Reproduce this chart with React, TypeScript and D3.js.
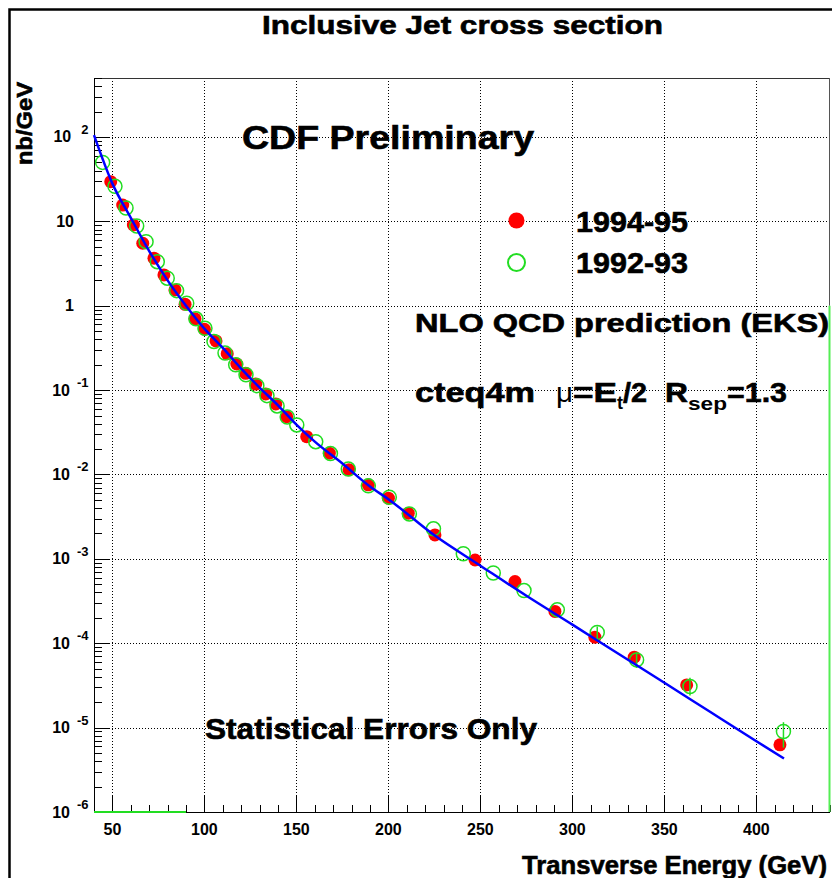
import React from 'react'
import { scaleLinear, scaleLog, line, curveMonotoneX, range } from 'd3'

// 1994-95 data (filled red)
const et9495 = [49.1, 55.6, 61.4, 66.5, 72.6, 78.0, 84.0, 89.5, 94.9, 100.0, 106.3, 112.4, 117.6, 122.4, 127.9, 133.3, 138.8, 144.7, 155.6, 167.9, 178.6, 189.1, 200.0, 210.8, 225.3, 247.1, 268.8, 290.5, 312.2, 333.6, 362.1, 412.8]
const xs9495 = [29.5, 15.6, 9.06, 5.5, 3.66, 2.32, 1.54, 1.04, 0.70, 0.526, 0.383, 0.27, 0.204, 0.158, 0.118, 0.090, 0.0686, 0.0485, 0.0281, 0.0179, 0.01135, 0.00754, 0.00524, 0.00348, 0.00192, 0.00097, 0.000538, 0.000238, 0.000118, 6.84e-5, 3.21e-5, 6.25e-6]

// 1992-93 data (open green)
const et9293 = [44.7, 51.4, 57.4, 63.2, 68.3, 74.4, 79.8, 84.9, 90.4, 95.4, 100.3, 105.2, 111.2, 117, 122.6, 128.5, 134, 139.5, 145, 150.2, 160.5, 168.5, 178.2, 189.1, 200.5, 211.4, 224.5, 240.7, 257, 273.7, 291.8, 313.5, 334.9, 363.9, 414.7]
const xs9293 = [50, 26, 14.4, 8.8, 5.75, 3.33, 2.12, 1.51, 1.07, 0.70, 0.54, 0.376, 0.275, 0.2, 0.152, 0.113, 0.086, 0.065, 0.048, 0.0387, 0.0245, 0.0177, 0.0116, 0.00733, 0.00537, 0.00341, 0.00227, 0.00115, 0.00068, 0.000421, 0.000249, 0.000134, 6.35e-5, 3.07e-5, 9.0e-6]
const errEt = [313.5, 334.9, 363.9, 414.7]
const errLo = [1.1e-4, 5.1e-5, 2.4e-5, 5.8e-6]
const errHi = [1.58e-4, 7.8e-5, 3.9e-5, 1.16e-5]

// NLO QCD (EKS) prediction
const etNLO = [40, 50, 60, 70, 80, 90, 100, 110, 120, 130, 140, 150, 160, 175, 190, 200, 225, 250, 275, 300, 325, 350, 375, 400, 415]
const xsNLO = [105, 28, 11, 4.45, 2.0, 1.0, 0.535, 0.316, 0.18, 0.107, 0.066, 0.039, 0.0245, 0.0135, 0.0072, 0.0051, 0.0019, 0.00083, 3.65e-4, 1.66e-4, 7.5e-5, 3.4e-5, 1.53e-5, 6.9e-6, 4.3e-6]

const xTicks = [50, 100, 150, 200, 250, 300, 350, 400]
const yExps = [-6, -5, -4, -3, -2, -1, 0, 1, 2]

const FONT = 'Liberation Sans, Arial, Helvetica, sans-serif'
const GREEN = '#22dd22'

export default function App() {
  const x = scaleLinear().domain([40, 440]).range([94, 830])
  const y = scaleLog().domain([1e-6, 500]).range([812, 78])
  const left = 94, right = 830, top = 78, bottom = 812

  const nlo = line<number>().x((d, i) => x(etNLO[i])).y(d => y(d)).curve(curveMonotoneX)

  const minorY: number[] = []
  yExps.forEach(e => range(2, 10).forEach(k => { const v = k * Math.pow(10, e); if (v <= 500) minorY.push(v) }))
  const minorX = range(40, 441, 10).filter(v => v % 50 !== 0)

  const txt = { fontFamily: FONT, fontWeight: 'bold' as const, fill: '#000' }
  // heavier text for the big labels, like the original's bitmap font
  const big = { ...txt, stroke: '#000', strokeWidth: 0.6 }
  const py = (v: number) => Math.round(y(v)) + 0.5
  const px = (v: number) => Math.round(x(v)) + 0.5

  return (
    <svg width={832} height={878} style={{ position: 'absolute', left: 0, top: 0, background: '#fff' }}>
      <rect x={0} y={0} width={832} height={878} fill="#fff" />
      {/* canvas frame */}
      <path d="M9.5,878 V9.5 H840" fill="none" stroke="#000" strokeWidth={2.5} />

      <text {...big} x={262} y={34} fontSize={26} textLength={401} lengthAdjust="spacingAndGlyphs">Inclusive Jet cross section</text>

      {/* grid */}
      {xTicks.map(t => (
        <line key={'gx' + t} x1={px(t)} x2={px(t)} y1={top} y2={bottom} stroke="#000" strokeDasharray="1,2" />
      ))}
      {yExps.filter(e => e > -6).map(e => (
        <line key={'gy' + e} x1={left} x2={right} y1={py(Math.pow(10, e))} y2={py(Math.pow(10, e))} stroke="#000" strokeDasharray="1,2" />
      ))}

      {/* frame */}
      <line x1={left} x2={right} y1={top + 0.5} y2={top + 0.5} stroke="#333" />
      <line x1={right - 0.5} x2={right - 0.5} y1={top} y2={y(1)} stroke="#555" />
      <line x1={left + 0.5} x2={left + 0.5} y1={top} y2={bottom} stroke="#000" />
      <line x1={left} x2={right} y1={bottom + 0.5} y2={bottom + 0.5} stroke="#000" />

      {/* y ticks */}
      {yExps.map(e => (
        <line key={'yt' + e} x1={left} x2={left + 16} y1={py(Math.pow(10, e))} y2={py(Math.pow(10, e))} stroke="#000" />
      ))}
      {minorY.map(v => (
        <line key={'ym' + v} x1={left} x2={left + 8} y1={py(v)} y2={py(v)} stroke="#000" />
      ))}
      {/* x ticks */}
      {xTicks.map(t => (
        <line key={'xt' + t} x1={px(t)} x2={px(t)} y1={bottom} y2={bottom - 16} stroke="#000" />
      ))}
      {minorX.map(t => (
        <line key={'xm' + t} x1={px(t)} x2={px(t)} y1={bottom} y2={bottom - 7} stroke="#000" />
      ))}

      {/* green histogram edges */}
      <line x1={x(40)} x2={x(90)} y1={bottom} y2={bottom} stroke={GREEN} strokeWidth={2} />
      <line x1={right - 0.5} x2={right - 0.5} y1={y(1)} y2={bottom} stroke="#55ee55" strokeWidth={2} />

      {/* tick labels */}
      {xTicks.map(t => (
        <text key={'xl' + t} {...txt} x={x(t)} y={835} fontSize={16} textAnchor="middle">{t}</text>
      ))}
      {yExps.map(e => {
        const yy = y(Math.pow(10, e))
        if (e === 0 || e === 1) {
          return <text key={'yl' + e} {...txt} x={74} y={yy + 5.5} fontSize={16} textAnchor="end">{e === 0 ? '1' : '10'}</text>
        }
        return (
          <text key={'yl' + e} {...txt} x={88.5} y={yy + 5.5} fontSize={16} textAnchor="end">
            10<tspan dx={e > 0 ? 10 : 7} dy={-8.5} fontSize={13}>{e > 0 ? String(e) : '-' + Math.abs(e)}</tspan>
          </text>
        )
      })}

      <text {...big} transform="translate(31.5,82) rotate(-90)" x={0} y={0} fontSize={22} textAnchor="end" textLength={83} lengthAdjust="spacingAndGlyphs">nb/GeV</text>
      <text {...big} x={522} y={874} fontSize={25} textLength={305} lengthAdjust="spacingAndGlyphs">Transverse Energy  (GeV)</text>

      {/* annotations */}
      <text {...big} x={242} y={149} fontSize={33} textLength={292} lengthAdjust="spacingAndGlyphs">CDF Preliminary</text>
      <text {...big} x={205} y={739} fontSize={30} textLength={332} lengthAdjust="spacingAndGlyphs">Statistical Errors Only</text>
      <text {...big} x={415} y={332} fontSize={26} textLength={414} lengthAdjust="spacingAndGlyphs">NLO QCD prediction (EKS)</text>
      <text {...big} x={415} y={401.5} fontSize={28} textLength={120} lengthAdjust="spacingAndGlyphs">cteq4m</text>
      <text fontFamily={FONT} x={556} y={401.5} fontSize={27} textLength={17} lengthAdjust="spacingAndGlyphs">μ</text>
      <text {...big} x={573} y={401.5} fontSize={28} textLength={44} lengthAdjust="spacingAndGlyphs">=E</text>
      <text {...txt} x={617} y={409} fontSize={18}>t</text>
      <text {...big} x={623} y={401.5} fontSize={28} textLength={24} lengthAdjust="spacingAndGlyphs">/2</text>
      <text {...big} x={665} y={401.5} fontSize={28} textLength={23} lengthAdjust="spacingAndGlyphs">R</text>
      <text {...txt} x={688} y={410} fontSize={19} textLength={39} lengthAdjust="spacingAndGlyphs">sep</text>
      <text {...big} x={727} y={401.5} fontSize={28} textLength={60} lengthAdjust="spacingAndGlyphs">=1.3</text>

      {/* legend */}
      <circle cx={516.5} cy={220.5} r={8} fill="#ff0000" />
      <text {...big} x={576} y={231.5} fontSize={29} textLength={112} lengthAdjust="spacingAndGlyphs">1994-95</text>
      <circle cx={516.5} cy={262.5} r={8.5} fill="none" stroke={GREEN} strokeWidth={2} />
      <text {...big} x={576} y={272.5} fontSize={29} textLength={112} lengthAdjust="spacingAndGlyphs">1992-93</text>

      {/* data */}
      {et9495.map((e, i) => (
        <circle key={'r' + i} cx={x(e)} cy={y(xs9495[i])} r={6.5} fill="#ff0000" />
      ))}
      {errEt.map((e, i) => (
        <line key={'er' + i} x1={x(e)} x2={x(e)} y1={y(errLo[i])} y2={y(errHi[i])} stroke={GREEN} strokeWidth={1.5} />
      ))}
      {et9293.map((e, i) => (
        <circle key={'g' + i} cx={x(e)} cy={y(xs9293[i])} r={7} fill="none" stroke={GREEN} strokeWidth={1.5} />
      ))}
      <path d={nlo(xsNLO) || ''} fill="none" stroke="#0000ff" strokeWidth={2.5} />
    </svg>
  )
}
